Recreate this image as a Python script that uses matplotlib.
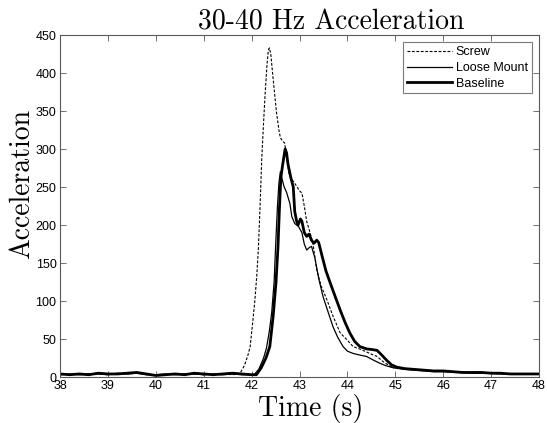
import matplotlib
matplotlib.use("Agg")
import matplotlib.pyplot as plt
import numpy as np

# Baseline (thick solid)
base_t = [38.0, 38.2, 38.4, 38.6, 38.8, 39.0, 39.2, 39.4, 39.6, 39.8, 40.0, 40.2, 40.4, 40.6,
          40.8, 41.0, 41.2, 41.4, 41.6, 41.8, 42.0, 42.1, 42.2, 42.3, 42.38, 42.45, 42.51, 42.55,
          42.58, 42.61, 42.65, 42.70, 42.73, 42.76, 42.82, 42.87, 42.9, 42.94, 42.97, 43.02, 43.05,
          43.1, 43.15, 43.2, 43.25, 43.3, 43.36, 43.4, 43.46, 43.55, 43.64, 43.75, 43.85, 43.95,
          44.05, 44.15, 44.26, 44.4, 44.53, 44.62, 44.7, 44.82, 44.92, 45.03, 45.2, 45.4, 45.6,
          45.8, 46.0, 46.2, 46.4, 46.6, 46.8, 47.0, 47.2, 47.4, 47.6, 47.8, 48.0]
base_a = [4, 3, 4, 3, 5, 4, 4, 5, 6, 4, 2, 3, 4, 3,
          5, 4, 3, 4, 5, 4, 3, 3, 12, 25, 40, 80, 125, 170,
          220, 262, 280, 300, 295, 280, 262, 250, 218, 205, 200, 208, 205,
          190, 185, 188, 180, 176, 180, 177, 162, 140, 124, 105, 88, 72,
          58, 47, 40, 37, 36, 35, 30, 22, 16, 13, 11, 10, 9,
          8, 8, 7, 6, 6, 6, 5, 5, 4, 4, 4, 4]

# Loose Mount (thin solid)
loose_t = [38.0, 38.2, 38.4, 38.6, 38.8, 39.0, 39.2, 39.4, 39.6, 39.8, 40.0, 40.2, 40.4, 40.6,
           40.8, 41.0, 41.2, 41.4, 41.6, 41.8, 42.0, 42.05, 42.15, 42.25, 42.31, 42.37, 42.42,
           42.47, 42.5, 42.54, 42.57, 42.6, 42.63, 42.68, 42.73, 42.8, 42.84, 42.9, 42.98, 43.05,
           43.1, 43.15, 43.2, 43.25, 43.32, 43.4, 43.49, 43.6, 43.7, 43.8, 43.91, 44.0, 44.12,
           44.25, 44.4, 44.55, 44.68, 44.8, 44.96, 45.2, 45.4, 45.6, 45.8, 46.0, 46.3, 46.6,
           46.9, 47.2, 47.5, 47.8, 48.0]
loose_a = [3, 4, 3, 4, 4, 3, 5, 4, 5, 3, 3, 4, 3, 4,
           4, 3, 4, 3, 4, 3, 3, 3, 10, 25, 38, 60, 85,
           125, 170, 225, 255, 270, 262, 250, 243, 228, 211, 202, 198, 190,
           175, 167, 170, 172, 157, 130, 106, 85, 66, 52, 40, 34, 31,
           29, 27, 22, 18, 15, 12, 10, 9, 8, 7, 7, 6, 5,
           5, 4, 4, 4, 4]

# Screw (dashed)
screw_t = [38.0, 38.2, 38.4, 38.6, 38.8, 39.0, 39.2, 39.4, 39.6, 39.8, 40.0, 40.2, 40.4, 40.6,
           40.8, 41.0, 41.2, 41.4, 41.6, 41.75, 41.85, 41.92, 41.97, 42.02, 42.07, 42.11, 42.14,
           42.18, 42.21, 42.25, 42.28, 42.32, 42.35, 42.37, 42.4, 42.45, 42.52, 42.57, 42.6,
           42.65, 42.69, 42.73, 42.78, 42.84, 42.9, 42.95, 43.0, 43.05, 43.1, 43.15, 43.22, 43.28,
           43.36, 43.45, 43.57, 43.7, 43.85, 43.99, 44.12, 44.25, 44.4, 44.5, 44.62, 44.75, 44.9,
           45.05, 45.3, 45.6, 45.9, 46.2, 46.5, 46.8, 47.1, 47.4, 47.7, 48.0]
screw_a = [4, 3, 4, 4, 5, 3, 4, 4, 5, 4, 3, 3, 4, 4,
           4, 3, 4, 4, 3, 4, 15, 28, 40, 70, 102, 135, 167,
           230, 285, 335, 370, 410, 430, 433, 425, 392, 348, 325, 315,
           310, 308, 290, 268, 260, 255, 250, 245, 242, 225, 205, 190, 176,
           141, 120, 102, 80, 58, 49, 40, 37, 33, 30, 27, 20, 14,
           12, 10, 9, 8, 7, 6, 5, 5, 4, 4, 4]

x_ticks = np.arange(38, 49, 1)
y_ticks = np.arange(0, 451, 50)

serif = "cmr10"
sans = "Liberation Sans"

fig = plt.figure(figsize=(5.47, 4.23), dpi=100)
ax = fig.add_axes([60 / 547, 46 / 423, 479 / 547, 342 / 423])

ax.plot(screw_t, screw_a, color="black", linestyle="--", linewidth=0.8,
        dashes=(2.5, 1.5), label="Screw")
ax.plot(loose_t, loose_a, color="black", linewidth=0.9, label="Loose Mount")
ax.plot(base_t, base_a, color="black", linewidth=2.0, label="Baseline")

ax.set_xlim(38, 48)
ax.set_ylim(0, 450)
ax.set_xticks(x_ticks)
ax.set_yticks(y_ticks)
ax.tick_params(direction="in", top=True, right=True, length=4, width=0.6,
               labelsize=9, colors="0.35", labelcolor="black", pad=2.5)
for lbl in ax.get_xticklabels() + ax.get_yticklabels():
    lbl.set_fontfamily(sans)
for s in ax.spines.values():
    s.set_color("0.35")
    s.set_linewidth(0.8)

leg = ax.legend(loc="upper right", prop={"family": sans, "size": 9}, frameon=True,
                fancybox=False, edgecolor="0.35", handlelength=3.6, borderaxespad=0.6,
                labelspacing=0.3, borderpad=0.3, handletextpad=0.3)
leg.get_frame().set_linewidth(0.8)

fig.text(331 / 547, 1 - 29 / 423, "30-40 Hz Acceleration", family=serif, fontsize=20,
         ha="center", va="baseline")
fig.text(311 / 547, 1 - 416 / 423, "Time (s)", family=serif, fontsize=20,
         ha="center", va="baseline")
fig.text(29 / 547, 1 - 184 / 423, "Acceleration", family=serif, fontsize=20,
         ha="center", va="baseline", rotation=90, rotation_mode="anchor")

fig.savefig("out.png", dpi=100)
